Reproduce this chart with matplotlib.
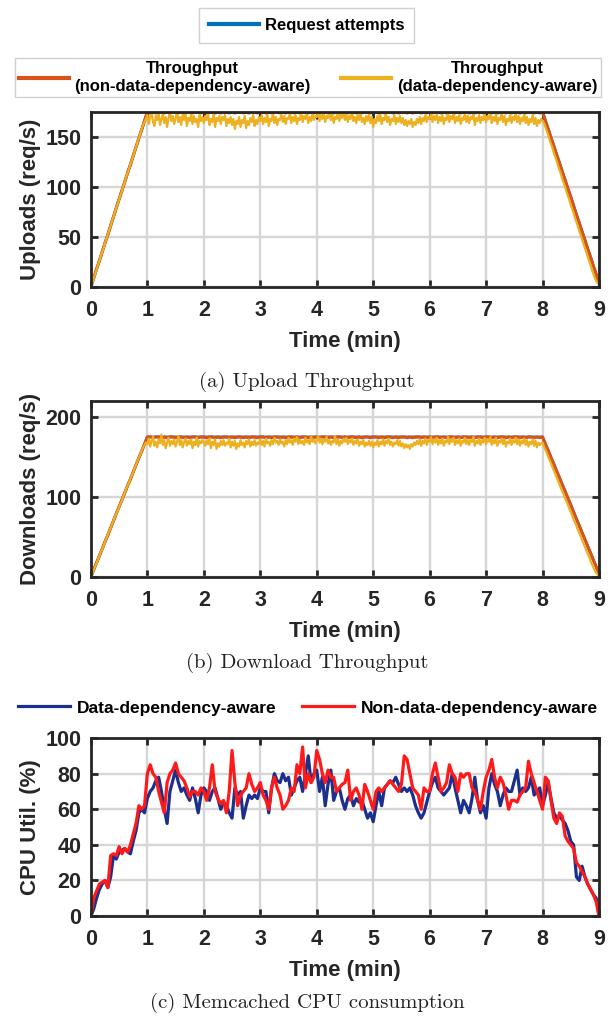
import numpy as np
import matplotlib.pyplot as plt

# request attempts and non-aware throughput: every 0.05 min (3 s), 0..9 min
attempts = [0, 88, 175, 175, 175, 175, 175, 175, 175, 175, 175, 175, 175, 175, 175, 175, 175, 90, 4]  # every 0.5 min

up_nonaware = [0, 9, 18, 26, 35, 44, 52, 61, 70, 79, 88, 96, 105, 114, 122, 131, 140, 149, 157, 166,
               175, 174, 175, 174, 175, 175, 174, 175, 174, 175, 175, 174, 175, 174, 175, 175, 174, 175, 175, 174,
               175, 174, 175, 175, 174, 175, 174, 175, 175, 174, 175, 174, 175, 175, 174, 175, 174, 175, 175, 174,
               175, 175, 174, 175, 174, 175, 175, 174, 175, 174, 175, 175, 174, 175, 174, 175, 175, 174, 175, 174,
               175, 174, 175, 175, 174, 175, 174, 175, 175, 174, 175, 174, 175, 175, 174, 175, 174, 175, 175, 174,
               175, 175, 174, 175, 174, 175, 175, 174, 175, 174, 175, 175, 174, 175, 174, 175, 175, 174, 175, 174,
               175, 174, 175, 175, 174, 175, 174, 175, 175, 174, 175, 174, 175, 175, 174, 175, 174, 175, 175, 174,
               175, 175, 174, 175, 174, 175, 175, 174, 175, 174, 175, 175, 174, 175, 174, 175, 175, 174, 175, 174,
               175, 166, 158, 149, 141, 132, 124, 115, 107, 98, 90, 81, 72, 64, 55, 47, 38, 30, 21, 13, 4]
down_nonaware = [0, 9, 18, 26, 35, 44, 52, 61, 70, 79, 88, 96, 105, 114, 122, 131, 140, 149, 157, 166,
                 175, 175, 174, 175, 175, 174, 175, 174, 175, 175, 174, 175, 175, 174, 175, 174, 175, 175, 174, 175,
                 175, 174, 175, 175, 174, 175, 174, 175, 175, 174, 175, 174, 175, 175, 174, 175, 174, 175, 175, 174,
                 175, 175, 174, 175, 174, 175, 175, 174, 175, 174, 175, 175, 174, 175, 174, 175, 175, 174, 175, 174,
                 175, 174, 175, 175, 174, 175, 174, 175, 175, 174, 175, 174, 175, 175, 174, 175, 174, 175, 175, 174,
                 175, 175, 174, 175, 174, 175, 175, 174, 175, 174, 175, 175, 174, 175, 174, 175, 175, 174, 175, 174,
                 175, 174, 175, 175, 174, 175, 174, 175, 175, 174, 175, 174, 175, 175, 174, 175, 174, 175, 175, 174,
                 175, 175, 174, 175, 174, 175, 175, 174, 175, 174, 175, 175, 174, 175, 174, 175, 175, 174, 175, 174,
                 175, 166, 158, 149, 141, 132, 124, 115, 107, 98, 90, 81, 72, 64, 55, 47, 38, 30, 21, 13, 4]

# data-dependency-aware throughput: every 0.025 min (1.5 s), 0..9 min
up_aware = [0, 4, 9, 13, 17, 22, 26, 31, 35, 39, 44, 48, 53, 57, 61, 66, 70, 75, 79, 83,
            88, 92, 96, 101, 105, 110, 114, 118, 123, 127, 131, 136, 140, 145, 149, 153, 158, 162, 165, 168,
            172, 163, 170, 176, 165, 161, 171, 167, 174, 162, 168, 173, 164, 170, 160, 169, 175, 166, 171, 163,
            168, 177, 165, 170, 162, 172, 167, 174, 161, 169, 166, 173, 163, 171, 165, 168, 160, 172, 166, 170,
            164, 171, 167, 174, 162, 168, 165, 173, 160, 169, 166, 171, 163, 170, 167, 172, 161, 168, 164, 170,
            162, 168, 158, 166, 163, 170, 160, 167, 164, 171, 159, 166, 162, 169, 165, 172, 161, 167, 163, 170,
            166, 172, 163, 169, 165, 173, 161, 168, 166, 174, 164, 170, 162, 168, 167, 173, 165, 171, 163, 169,
            168, 174, 164, 170, 166, 172, 163, 169, 167, 175, 165, 171, 168, 173, 164, 170, 166, 174, 167, 171,
            170, 176, 166, 172, 168, 175, 165, 171, 169, 174, 167, 173, 164, 170, 168, 176, 166, 172, 169, 174,
            167, 173, 165, 171, 168, 177, 166, 170, 164, 172, 167, 174, 165, 169, 163, 171, 166, 173, 164, 170,
            160, 168, 164, 171, 166, 173, 163, 169, 167, 174, 165, 170, 162, 168, 166, 172, 163, 169, 165, 171,
            164, 169, 162, 167, 161, 166, 163, 168, 160, 165, 162, 168, 164, 170, 163, 169, 166, 172, 165, 170,
            168, 174, 165, 171, 167, 173, 164, 170, 166, 172, 163, 169, 167, 175, 165, 171, 168, 174, 164, 170,
            166, 172, 163, 169, 167, 174, 165, 171, 164, 170, 168, 173, 162, 169, 166, 172, 164, 170, 167, 173,
            165, 171, 168, 175, 164, 170, 166, 173, 163, 169, 167, 174, 165, 171, 162, 168, 166, 172, 164, 170,
            167, 174, 165, 171, 163, 169, 166, 173, 164, 170, 162, 168, 165, 172, 163, 169, 161, 167, 164, 168,
            166, 164, 160, 156, 152, 147, 143, 139, 134, 130, 126, 121, 117, 113, 108, 104, 100, 95, 91, 87,
            82, 78, 74, 69, 65, 61, 56, 52, 48, 43, 39, 35, 30, 26, 22, 17, 13, 9, 6, 4, 3]
down_aware = [0, 4, 9, 13, 17, 22, 26, 31, 35, 39, 44, 48, 53, 57, 61, 66, 70, 75, 79, 83,
              88, 92, 96, 101, 105, 110, 114, 118, 123, 127, 131, 136, 140, 145, 149, 153, 158, 162, 165, 168,
              166, 173, 163, 170, 175, 164, 169, 162, 172, 167, 178, 165, 171, 161, 168, 174, 164, 170, 166, 172,
              163, 169, 176, 165, 171, 162, 168, 173, 164, 170, 166, 172, 161, 169, 165, 174, 163, 170, 167, 171,
              168, 164, 171, 166, 173, 161, 169, 165, 172, 160, 167, 163, 170, 165, 171, 164, 168, 166, 173, 162,
              169, 164, 170, 160, 167, 163, 171, 165, 168, 162, 170, 166, 172, 163, 169, 165, 171, 164, 168, 166,
              172, 165, 170, 163, 173, 167, 169, 164, 171, 166, 174, 168, 170, 165, 172, 167, 169, 163, 171, 166,
              174, 168, 171, 165, 173, 169, 175, 166, 172, 167, 170, 165, 174, 168, 171, 166, 176, 169, 172, 167,
              171, 176, 168, 173, 166, 172, 169, 175, 167, 171, 165, 170, 168, 176, 166, 172, 164, 170, 167, 173,
              169, 174, 166, 171, 168, 173, 165, 170, 167, 172, 164, 169, 166, 171, 163, 168, 165, 170, 164, 169,
              162, 168, 165, 171, 163, 169, 166, 172, 164, 170, 167, 173, 165, 169, 163, 168, 166, 171, 164, 170,
              163, 167, 161, 166, 162, 165, 160, 166, 163, 168, 165, 170, 166, 172, 164, 170, 167, 173, 165, 171,
              169, 175, 166, 172, 168, 174, 165, 171, 167, 173, 164, 170, 168, 175, 166, 172, 169, 174, 165, 171,
              167, 173, 164, 170, 168, 174, 166, 172, 165, 171, 169, 175, 164, 170, 167, 173, 165, 171, 168, 174,
              166, 172, 169, 175, 165, 171, 167, 174, 164, 170, 168, 173, 166, 172, 163, 169, 167, 173, 165, 171,
              168, 174, 166, 172, 164, 170, 167, 173, 165, 171, 163, 169, 166, 172, 164, 170, 162, 168, 165, 167,
              168, 163, 159, 155, 150, 146, 142, 137, 133, 129, 124, 120, 116, 111, 107, 103, 98, 94, 90, 85,
              81, 77, 72, 68, 64, 59, 55, 51, 46, 42, 38, 33, 29, 25, 20, 16, 12, 8, 5, 3, 2]

# memcached CPU (%), every 0.05 min
cpu_aware = [0, 4, 10, 15, 18, 20, 16, 22, 34, 32, 36, 37, 38, 36, 35, 42, 48, 58, 60, 58,
             66, 70, 72, 76, 78, 70, 60, 52, 70, 76, 82, 75, 70, 72, 68, 65, 72, 66, 58, 68,
             72, 70, 65, 70, 72, 66, 60, 64, 62, 58, 55, 72, 68, 70, 55, 62, 68, 66, 68, 66,
             72, 70, 70, 58, 72, 80, 76, 75, 80, 76, 78, 68, 72, 76, 78, 70, 80, 90, 75, 80,
             82, 70, 78, 62, 74, 82, 65, 70, 72, 65, 60, 66, 68, 62, 66, 64, 65, 60, 55, 58,
             53, 62, 70, 62, 72, 74, 76, 75, 78, 74, 70, 72, 70, 72, 68, 62, 58, 55, 58, 64,
             70, 75, 78, 72, 70, 68, 70, 72, 80, 72, 65, 58, 65, 62, 58, 66, 78, 65, 58, 62,
             55, 72, 80, 74, 70, 62, 68, 72, 70, 70, 76, 82, 68, 72, 70, 72, 78, 68, 70, 72,
             62, 68, 75, 66, 58, 55, 56, 54, 52, 48, 42, 40, 22, 20, 28, 22, 18, 15, 12, 10, 0]
cpu_nonaware = [0, 10, 14, 18, 19, 20, 16, 34, 35, 34, 39, 35, 38, 36, 40, 46, 52, 62, 60, 62,
                80, 85, 80, 78, 70, 64, 58, 75, 80, 82, 86, 80, 78, 76, 72, 67, 70, 70, 68, 72,
                70, 65, 72, 85, 70, 66, 63, 65, 58, 70, 93, 75, 62, 68, 70, 72, 80, 74, 70, 72,
                75, 68, 65, 60, 72, 78, 72, 68, 60, 62, 65, 72, 70, 85, 80, 95, 72, 80, 75, 78,
                93, 88, 80, 75, 82, 78, 78, 70, 72, 74, 75, 82, 65, 70, 72, 68, 60, 74, 70, 65,
                60, 70, 72, 70, 72, 74, 76, 74, 72, 70, 74, 90, 88, 80, 72, 70, 68, 60, 72, 70,
                70, 80, 86, 78, 70, 72, 75, 85, 80, 78, 70, 80, 78, 80, 80, 72, 70, 65, 60, 70,
                78, 82, 88, 78, 72, 78, 75, 68, 60, 65, 65, 64, 68, 70, 72, 87, 80, 75, 70, 65,
                60, 78, 76, 65, 55, 52, 58, 56, 45, 42, 40, 38, 30, 28, 25, 22, 18, 15, 12, 8, 0]

BLUE = '#0072BD'
ORANGE = '#D95319'
YELLOW = '#EDB120'
NAVY = '#1b2f8e'
RED = '#ff1a1a'
DARK = '#262626'

plt.rcParams['font.family'] = ['Liberation Sans', 'DejaVu Sans']
plt.rcParams['font.weight'] = 'bold'

fig = plt.figure(figsize=(6.1, 10.21), dpi=100)


def style_axes(ax, ylim, yticks, ylabel):
    ax.set_xlim(0, 9)
    ax.set_ylim(*ylim)
    ax.set_xticks(range(10))
    ax.set_yticks(yticks)
    ax.grid(True, color='#d6d6d6', linewidth=1.7)
    ax.set_axisbelow(True)
    for s in ax.spines.values():
        s.set_linewidth(2)
        s.set_color(DARK)
    ax.tick_params(direction='in', top=True, right=True, length=5, width=2,
                   colors=DARK, labelsize=15.5)
    ax.tick_params(axis='x', pad=9.5)
    ax.tick_params(axis='y', pad=7)
    for lab in ax.get_xticklabels() + ax.get_yticklabels():
        lab.set_fontweight('bold')
    ax.set_xlabel('Time (min)', fontsize=16, fontweight='bold', color=DARK, labelpad=7)
    ax.set_ylabel(ylabel, fontsize=16, fontweight='bold', color=DARK, labelpad=3)


def throughput(ax, nonaware, aware):
    ax.plot(np.linspace(0, 9, len(attempts)), attempts, color=BLUE, lw=2)
    ax.plot(np.linspace(0, 9, len(nonaware)), nonaware, color=ORANGE, lw=2.2)
    ax.plot(np.linspace(0, 9, len(aware)), aware, color=YELLOW, lw=1.6)


ax1 = fig.add_axes([0.149, 0.7189, 0.833, 0.1714])
throughput(ax1, up_nonaware, up_aware)
style_axes(ax1, (0, 175), [0, 50, 100, 150], 'Uploads (req/s)')

ax2 = fig.add_axes([0.149, 0.4349, 0.833, 0.1724])
throughput(ax2, down_nonaware, down_aware)
style_axes(ax2, (0, 220), [0, 100, 200], 'Downloads (req/s)')

ax3 = fig.add_axes([0.149, 0.1028, 0.833, 0.1743])
ax3.plot(np.linspace(0, 9, len(cpu_aware)), cpu_aware, color=NAVY, lw=2.3, label='Data-dependency-aware')
ax3.plot(np.linspace(0, 9, len(cpu_nonaware)), cpu_nonaware, color=RED, lw=2.3, label='Non-data-dependency-aware')
style_axes(ax3, (0, 100), [0, 20, 40, 60, 80, 100], 'CPU Util. (%)')

# legends
h_blue, = ax1.plot([], [], color=BLUE, lw=3, label='Request attempts')
h_or, = ax1.plot([], [], color=ORANGE, lw=3, label='Throughput\n(non-data-dependency-aware)')
h_ye, = ax1.plot([], [], color=YELLOW, lw=3, label='Throughput\n(data-dependency-aware)')

leg1 = fig.legend(handles=[h_blue], loc='center', bbox_to_anchor=(0.503, 0.9755),
                  prop={'size': 12, 'weight': 'bold'}, fancybox=False, edgecolor='#d0d0d0',
                  handlelength=3.0, handletextpad=0.35, borderpad=0.6, framealpha=1)
leg1.get_frame().set_linewidth(1)

leg2 = fig.legend(handles=[h_or, h_ye], loc='center', bbox_to_anchor=(0.505, 0.924), ncol=2,
                  prop={'size': 12, 'weight': 'bold'}, fancybox=False, edgecolor='#d0d0d0',
                  handlelength=3.0, handletextpad=0.35, borderpad=0.2, borderaxespad=0,
                  columnspacing=1.8, framealpha=1, labelspacing=0.2)
leg2.get_frame().set_linewidth(1)
for txt in leg2.get_texts():
    txt.set_multialignment('center')

leg3 = ax3.legend(loc='center', bbox_to_anchor=(0.505, 0.3066), bbox_transform=fig.transFigure,
                  ncol=2, frameon=False, prop={'size': 12.5, 'weight': 'bold'},
                  handlelength=3.0, columnspacing=1.45, handletextpad=0.4)

cap = dict(ha='center', va='center', fontsize=15, family='cmr10', color='#222222', fontweight='normal')
fig.text(0.503, 0.626, '(a) Upload Throughput', **cap)
fig.text(0.503, 0.3506, '(b) Download Throughput', **cap)
fig.text(0.503, 0.0176, '(c) Memcached CPU consumption', **cap)

fig.savefig('out.png', dpi=100)
